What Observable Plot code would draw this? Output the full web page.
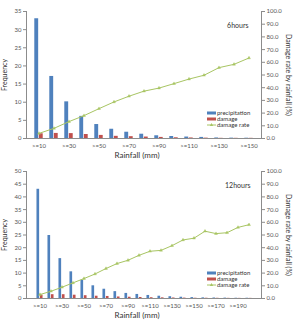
<!DOCTYPE html>
<html><head><meta charset="utf-8">
<script src="https://cdn.jsdelivr.net/npm/d3@7"></script>
<script src="https://cdn.jsdelivr.net/npm/@observablehq/plot@0.6"></script>
<style>
body{margin:0;background:#fff;font-family:Lato,"Liberation Sans",sans-serif}
#c{width:296px;height:322px;overflow:hidden}
svg{display:block}
</style></head><body><div id="c"></div>
<script>
const cats6 = [">=10",">=20",">=30",">=40",">=50",">=60",">=70",">=80",">=90",">=100",">=110",">=120",">=130",">=140",">=150"];
const precip6 = [33, 17.1, 10.1, 6.1, 3.85, 2.55, 1.73, 1.18, 0.75, 0.55, 0.4, 0.3, 0.15, 0.1, 0.08];
const damage6 = [1.3, 1.4, 1.35, 1.1, 0.85, 0.6, 0.5, 0.4, 0.3, 0.2, 0.15, 0.1, 0.05, 0.05, 0.05];
const rate6 = [4.0, 8.0, 13.3, 18.0, 23.5, 28.8, 33.3, 37.3, 39.7, 43.2, 46.8, 49.8, 55.8, 58.4, 63.4];

const cats12 = [">=10",">=20",">=30",">=40",">=50",">=60",">=70",">=80",">=90",">=100",">=110",">=120",">=130",">=140",">=150",">=160",">=170",">=180",">=190",">=200"];
const precip12 = [43, 24.8, 15.7, 10.5, 7.2, 5.0, 3.65, 2.7, 2.0, 1.6, 1.2, 0.9, 0.7, 0.5, 0.35, 0.25, 0.2, 0.15, 0.1, 0.1];
const damage12 = [1.3, 1.5, 1.5, 1.3, 1.1, 0.9, 0.8, 0.6, 0.5, 0.4, 0.3, 0.25, 0.2, 0.15, 0.1, 0.1, 0.08, 0.06, 0.05, 0.05];
const rate12 = [3.1, 5.7, 8.9, 12.3, 15.7, 19.3, 23.6, 27.5, 30.1, 34.0, 37.2, 37.9, 41.6, 46.1, 47.5, 53.0, 51.1, 51.8, 56.0, 58.1];

const legendLabels = ["precipitation", "damage", "damage rate"];
const colors = {p:"#4F81BD", d:"#C0504D", r:"#A8C563"};

function chart({cats, precip, damage, rate, yMax, yStep, label, height, mt, mb, labelDx}) {
  const k = yMax / 100;
  const rows = cats.map((c, i) => ({c, p: precip[i], d: damage[i], r: rate[i] * k}));
  const ml = 26, mr = 35, W = 296;
  const bw = (W - ml - mr) / cats.length;
  const barW = bw * 0.29;
  const axisColor = "#8c8c8c";
  const plot = Plot.plot({
    width: W, height, marginLeft: ml, marginRight: mr, marginTop: mt, marginBottom: mb,
    style: {fontSize: "6px", fontFamily: "Lato, 'Liberation Sans', sans-serif", color: "#555", background: "#fff"},
    x: {type: "band", domain: cats, padding: 0, label: null, axis: null},
    y: {domain: [0, yMax], label: null, axis: null},
    marks: [
      Plot.barY(rows, {x: "c", y: "p", fill: colors.p, insetLeft: bw / 2 - barW, insetRight: bw / 2}),
      Plot.barY(rows, {x: "c", y: "d", fill: colors.d, insetLeft: bw / 2, insetRight: bw / 2 - barW}),
      Plot.line(rows, {x: "c", y: "r", stroke: colors.r, strokeWidth: 1}),
      Plot.dot(rows, {x: "c", y: "r", symbol: "triangle", r: 1.1, fill: colors.r, stroke: colors.r, strokeWidth: 0.4}),
      Plot.axisY({ticks: d3.range(0, yMax + 0.001, yStep), tickFormat: d => String(d), tickSize: 3, tickPadding: 2, stroke: axisColor, label: null}),
      Plot.axisY({anchor: "right", ticks: d3.range(0, 101, 10).map(v => v * k), tickFormat: v => (v / k).toFixed(1), tickSize: 3, tickPadding: 2, stroke: axisColor, label: null}),
      Plot.axisX({tickSize: 0, tickPadding: 5, tickFormat: d => cats.indexOf(d) % 2 ? "" : d, label: null}),
      Plot.ruleY([0], {stroke: axisColor}),
      Plot.frame({anchor: "left", stroke: axisColor}),
      Plot.frame({anchor: "right", stroke: axisColor}),
      Plot.text([label], {text: d => d, frameAnchor: "top-right", dx: labelDx, dy: 12, textAnchor: "end", fontSize: 7, fill: "#333"}),
      Plot.text(["Frequency"], {text: d => d, frameAnchor: "left", rotate: -90, dx: -22, textAnchor: "middle", fontSize: 7, fill: "#333"}),
      Plot.text(["Damage rate by rainfall (%)"], {text: d => d, frameAnchor: "right", rotate: 90, dx: 27, textAnchor: "middle", fontSize: 7, fill: "#333"}),
      Plot.text(["Rainfall (mm)"], {text: d => d, frameAnchor: "bottom", dx: -7, dy: 19, textAnchor: "middle", fontSize: 8, fill: "#333"})
    ]
  });
  // legend inside plot area (bottom-right)
  const svg = d3.select(plot);
  const right = W - mr, bottom = height - mb;
  const g = svg.append("g").attr("font-size", 6).attr("fill", "#333").attr("text-anchor", "start")
    .attr("font-family", "Lato, 'Liberation Sans', sans-serif");
  const offs = [25, 19, 13];
  legendLabels.forEach((t, i) => {
    const y = bottom - offs[i];
    if (i < 2) {
      g.append("rect").attr("x", right - 54).attr("y", y - 1.5).attr("width", 9).attr("height", 3).attr("fill", i === 0 ? colors.p : colors.d);
    } else {
      g.append("line").attr("x1", right - 54).attr("x2", right - 45).attr("y1", y).attr("y2", y).attr("stroke", colors.r).attr("stroke-width", 1);
      g.append("path").attr("d", d3.symbol(d3.symbolTriangle, 5)()).attr("transform", `translate(${right - 49.5},${y})`).attr("fill", colors.r);
    }
    g.append("text").attr("x", right - 44).attr("y", y).attr("dy", "0.32em").attr("text-anchor", "start").text(t);
  });
  return plot;
}

const c = document.getElementById("c");
c.appendChild(chart({cats: cats6, precip: precip6, damage: damage6, rate: rate6, yMax: 35, yStep: 5, label: "6hours", height: 161, mt: 11, mb: 23, labelDx: -13}));
c.appendChild(chart({cats: cats12, precip: precip12, damage: damage12, rate: rate12, yMax: 50, yStep: 5, label: "12hours", height: 161, mt: 10, mb: 24, labelDx: -11}));
</script></body></html>
